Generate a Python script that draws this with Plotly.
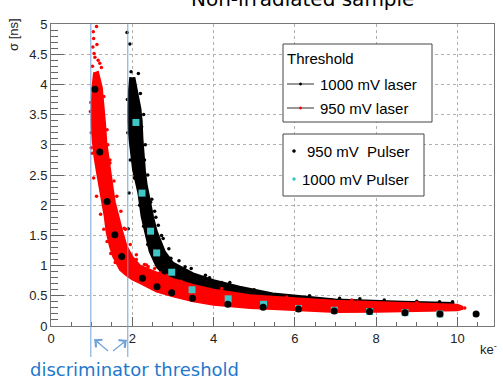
import plotly.graph_objects as go

# ---------------- data ----------------
# 950 mV laser threshold (red cloud): inner (lower-left) and outer (upper-right) envelope
red_inner_x = [1.06, 1.02, 1.00, 1.00, 1.03, 1.07, 1.13, 1.20, 1.27, 1.32, 1.37, 1.45, 1.53, 1.62, 1.70,
               1.85, 2.00, 2.19, 2.40, 2.60, 3.00, 3.50, 4.00, 4.50, 4.90, 5.46, 6.00, 7.00, 8.00, 8.70,
               9.50, 10.00, 10.12]
red_inner_y = [4.20, 3.95, 3.60, 3.35, 3.05, 2.80, 2.55, 2.27, 2.05, 1.82, 1.55, 1.32, 1.15, 1.02, 0.93,
               0.84, 0.77, 0.71, 0.64, 0.57, 0.49, 0.41, 0.35, 0.32, 0.30, 0.28, 0.26, 0.23, 0.235, 0.24,
               0.25, 0.26, 0.28]
red_outer_x = [1.15, 1.25, 1.30, 1.33, 1.36, 1.40, 1.46, 1.52, 1.57, 1.65, 1.76, 1.86, 2.00, 2.19, 2.47,
               2.70, 3.00, 3.50, 4.00, 4.50, 4.90, 5.46, 6.00, 7.00, 8.00, 8.70, 9.50, 10.00, 10.12]
red_outer_y = [4.22, 3.95, 3.60, 3.35, 3.05, 2.80, 2.55, 2.27, 2.05, 1.82, 1.55, 1.32, 1.15, 1.00, 0.92,
               0.86, 0.78, 0.68, 0.60, 0.55, 0.51, 0.48, 0.46, 0.42, 0.39, 0.38, 0.36, 0.35, 0.32]
red_stray_x = [1.12, 1.04, 1.05, 1.06, 1.16, 1.20, 1.01, 2.39, 2.35, 0.99, 1.24, 2.68, 0.98, 1.40,
               1.45, 1.80, 2.10, 3.20, 4.20, 5.80, 7.40, 9.00, 10.18, 1.10, 1.60,
               1.03, 1.08, 1.02, 1.13, 0.97, 0.99, 1.05, 1.12, 1.22, 1.30, 1.38, 1.47, 1.58,
               1.30, 1.38, 1.45, 1.55, 1.62, 1.72, 1.83, 1.95, 2.10, 2.30, 2.55, 2.85]
red_stray_y = [4.96, 4.87, 4.76, 4.51, 4.40, 4.35, 2.86, 0.98, 1.01, 3.20, 4.28, 0.88, 3.70, 3.00,
               2.75, 1.62, 1.10, 0.74, 0.62, 0.48, 0.43, 0.39, 0.30, 4.10, 1.20,
               4.62, 4.45, 4.30, 4.66, 3.55, 2.95, 2.45, 2.15, 1.85, 1.60, 1.40, 1.20, 1.05,
               3.80, 3.25, 2.70, 2.40, 2.15, 1.90, 1.60, 1.35, 1.18, 1.02, 0.95, 0.84]

# 1000 mV laser threshold (black cloud)
blk_inner_x = [1.95, 1.92, 1.90, 1.90, 1.93, 1.96, 2.02, 2.10, 2.15, 2.23, 2.31, 2.43, 2.60, 2.80, 3.00,
               3.50, 4.00, 4.64, 5.46, 7.00, 8.66, 9.90]
blk_inner_y = [4.12, 3.91, 3.60, 3.40, 3.10, 2.90, 2.58, 2.35, 2.20, 1.81, 1.57, 1.23, 0.98, 0.83, 0.73,
               0.60, 0.50, 0.42, 0.34, 0.27, 0.26, 0.28]
blk_outer_x = [2.05, 2.11, 2.20, 2.23, 2.25, 2.27, 2.31, 2.35, 2.39, 2.51, 2.60, 2.80, 3.00, 3.21, 3.50,
               4.00, 4.64, 5.46, 6.20, 7.00, 8.66, 9.90]
blk_outer_y = [4.12, 3.91, 3.60, 3.40, 3.10, 2.90, 2.58, 2.35, 2.20, 1.81, 1.57, 1.23, 1.05, 0.97, 0.87,
               0.76, 0.65, 0.54, 0.49, 0.44, 0.40, 0.38]
blk_stray_x = [1.87, 1.94, 1.97, 2.15, 2.23, 2.19, 2.64, 2.76, 1.92, 1.90, 2.95, 3.30, 3.90, 2.55,
               4.20, 5.00, 5.50, 6.36, 7.10, 7.60, 8.20, 9.00, 9.56, 9.88, 2.30, 2.45,
               1.88, 1.89, 1.95, 2.05, 2.18, 2.28, 2.38, 2.55,
               2.20, 2.28, 2.32, 2.38, 2.48, 2.58, 2.72, 2.90, 3.15, 3.45, 3.80, 4.40]
blk_stray_y = [4.86, 4.67, 4.21, 4.18, 3.30, 3.02, 1.67, 1.45, 2.20, 1.61, 1.12, 0.98, 0.80, 1.90,
               0.72, 0.60, 0.52, 0.50, 0.46, 0.45, 0.43, 0.41, 0.40, 0.40, 2.75, 2.05,
               3.75, 3.20, 2.75, 2.45, 2.00, 1.65, 1.35, 1.08,
               3.85, 3.50, 3.00, 2.50, 2.10, 1.80, 1.50, 1.28, 1.08, 0.95, 0.84, 0.72]

# Pulser measurements
p950_x = [1.08, 1.20, 1.38, 1.57, 1.74, 2.25, 2.61, 2.97, 3.48, 4.35, 5.22, 6.09, 6.97, 7.84, 8.71, 9.57, 10.46]
p950_y = [3.92, 2.88, 2.06, 1.51, 1.15, 0.79, 0.65, 0.55, 0.46, 0.36, 0.31, 0.28, 0.25, 0.24, 0.22, 0.20, 0.20]
p1000_x = [2.09, 2.24, 2.45, 2.60, 2.97, 3.47, 4.36, 5.23, 6.09, 6.97, 7.84, 8.71, 9.57]
p1000_y = [3.37, 2.20, 1.57, 1.21, 0.89, 0.60, 0.45, 0.36, 0.29, 0.26, 0.24, 0.22, 0.20]

disc_thresholds = [0.98, 1.89]

title_text = "Non-irradiated sample"
x_title = "ke<sup>-</sup>"
y_title = "σ [ns]"
legend1_title = "Threshold"
legend1_labels = ["1000 mV laser", "950 mV laser"]
legend1_colors = ["black", "red"]
legend2_labels = ["950 mV\u00a0\u00a0Pulser", "1000 mV Pulser"]
legend2_colors = ["black", "#3fc6c6"]

# ---------------- figure ----------------
BLUE_LINE = "#6fa3d8"
BLUE_TEXT = "#1f78cc"
CYAN = "#3fc6c6"

fig = go.Figure()

def band(ix, iy, ox, oy):
    return ix + ox[::-1], iy + oy[::-1]

bx, by = band(blk_inner_x, blk_inner_y, blk_outer_x, blk_outer_y)
fig.add_trace(go.Scatter(x=bx, y=by, mode="lines", fill="toself", fillcolor="black",
                         line=dict(color="black", width=2), name="1000 mV laser",
                         showlegend=False, hoverinfo="skip"))
fig.add_trace(go.Scatter(x=blk_stray_x, y=blk_stray_y, mode="markers",
                         marker=dict(color="black", size=3.5), showlegend=False, hoverinfo="skip"))
rx, ry = band(red_inner_x, red_inner_y, red_outer_x, red_outer_y)
fig.add_trace(go.Scatter(x=rx, y=ry, mode="lines", fill="toself", fillcolor="red",
                         line=dict(color="red", width=2), name="950 mV laser",
                         showlegend=False, hoverinfo="skip"))
fig.add_trace(go.Scatter(x=red_stray_x, y=red_stray_y, mode="markers",
                         marker=dict(color="red", size=3.5), showlegend=False, hoverinfo="skip"))

fig.add_trace(go.Scatter(x=p1000_x, y=p1000_y, mode="markers", name="1000 mV Pulser",
                         marker=dict(color=CYAN, size=7, symbol="square"), showlegend=False))
fig.add_trace(go.Scatter(x=p950_x, y=p950_y, mode="markers", name="950 mV Pulser",
                         marker=dict(color="black", size=7, symbol="circle"), showlegend=False))

PL, PR, PT, PB = 51, 494, 24, 326
W, H = 503, 381
def px(xp):
    return (xp - PL) / (PR - PL)
def py(yp):
    return (PB - yp) / (PB - PT)

shapes = []
for t in disc_thresholds:
    shapes.append(dict(type="line", xref="x", yref="paper", x0=t, x1=t, y0=py(357), y1=1,
                       line=dict(color=BLUE_LINE, width=1), layer="above"))

# arrows pointing at the threshold lines: shaft as shape, head as annotation
arrows = [((108.0, 351.0), (94.3, 339.3)), ((113.0, 351.0), (126.7, 340.0))]
for (tx, ty), (hx, hy) in arrows:
    shapes.append(dict(type="line", xref="paper", yref="paper", x0=px(tx), y0=py(ty), x1=px(hx), y1=py(hy),
                       line=dict(color=BLUE_LINE, width=1.2), layer="above"))

# legend boxes (drawn by hand to match the ROOT TLegend look)
shapes.append(dict(type="rect", xref="paper", yref="paper", x0=px(283), x1=px(432), y0=py(122), y1=py(44),
                   line=dict(color="#444", width=1), fillcolor="white", layer="above"))
shapes.append(dict(type="rect", xref="paper", yref="paper", x0=px(283), x1=px(424), y0=py(196), y1=py(134),
                   line=dict(color="#444", width=1), fillcolor="white", layer="above"))

annotations = [
    dict(text=title_text, x=px(302), y=py(-1), xref="paper", yref="paper", showarrow=False,
         xanchor="center", yanchor="middle", font=dict(family="DejaVu Sans", size=20, color="black")),
    dict(text=y_title, x=px(14), y=py(35), xref="paper", yref="paper", showarrow=False, textangle=-90,
         xanchor="center", yanchor="middle", font=dict(family="Liberation Sans", size=13, color="#222")),
    dict(text=x_title, x=px(499), y=py(349), xref="paper", yref="paper", showarrow=False,
         xanchor="right", yanchor="middle", font=dict(family="Liberation Sans", size=13, color="#222")),
    dict(text="discriminator threshold", x=px(134), y=py(369), xref="paper", yref="paper",
         showarrow=False, xanchor="center", yanchor="middle",
         font=dict(family="DejaVu Sans", size=18, color=BLUE_TEXT)),
    dict(text=legend1_title, x=px(285), y=py(58), xref="paper", yref="paper", showarrow=False,
         xanchor="left", yanchor="middle", font=dict(family="Liberation Sans", size=15, color="black")),
]
for (tx, ty), (hx, hy) in arrows:
    annotations.append(dict(text="", x=px(hx), y=py(hy), xref="paper", yref="paper", showarrow=True,
                            ax=(tx - hx) * 0.45, ay=(ty - hy) * 0.45, arrowhead=4, arrowsize=1.6,
                            arrowwidth=1.2, arrowcolor=BLUE_LINE, standoff=0))

leg_font = dict(family="Liberation Sans", size=15, color="black")
for i, (lab, col) in enumerate(zip(legend1_labels, legend1_colors)):
    yc = 84 + 24 * i
    shapes.append(dict(type="line", xref="paper", yref="paper", x0=px(287), x1=px(314), y0=py(yc), y1=py(yc),
                       line=dict(color="#333", width=1), layer="above"))
    shapes.append(dict(type="circle", xref="paper", yref="paper", x0=px(299.3), x1=px(301.7),
                       y0=py(yc + 1.2), y1=py(yc - 1.2), line=dict(color=col, width=0.5), fillcolor=col,
                       layer="above"))
    annotations.append(dict(text=lab, x=px(318), y=py(yc), xref="paper", yref="paper", showarrow=False,
                            xanchor="left", yanchor="middle", font=leg_font))
for i, (lab, col) in enumerate(zip(legend2_labels, legend2_colors)):
    yc = 151 + 28 * i
    shapes.append(dict(type="circle", xref="paper", yref="paper", x0=px(292.5), x1=px(295.5),
                       y0=py(yc + 1.5), y1=py(yc - 1.5), line=dict(color=col, width=0.5), fillcolor=col,
                       layer="above"))
    annotations.append(dict(text=lab, x=px(305 if i == 0 else 300), y=py(yc), xref="paper", yref="paper",
                            showarrow=False, xanchor="left", yanchor="middle", font=leg_font))

axis_common = dict(showline=True, linecolor="#777", linewidth=1, mirror=True, zeroline=False,
                   showgrid=True, gridcolor="#b0b0b0", griddash="dot", gridwidth=1,
                   ticks="inside", tickcolor="#666",
                   tickfont=dict(family="Liberation Sans", size=13, color="#222"))

fig.update_layout(
    width=W, height=H, margin=dict(l=PL, r=W - PR, t=PT, b=H - PB),
    paper_bgcolor="white", plot_bgcolor="white", showlegend=False,
    xaxis=dict(range=[0, 10.9], tick0=0, dtick=2, ticklen=9,
               minor=dict(dtick=0.5, ticks="inside", ticklen=4.5, tickcolor="#666", showgrid=False),
               **axis_common),
    yaxis=dict(range=[0, 5], tick0=0, dtick=0.5, ticklen=13,
               minor=dict(dtick=0.1, ticks="inside", ticklen=6.5, tickcolor="#666", showgrid=False),
               **axis_common),
    shapes=shapes,
    annotations=annotations,
)

fig.write_html("out.html", config={"displayModeBar": False},
               post_script="document.body.style.margin='0';")
